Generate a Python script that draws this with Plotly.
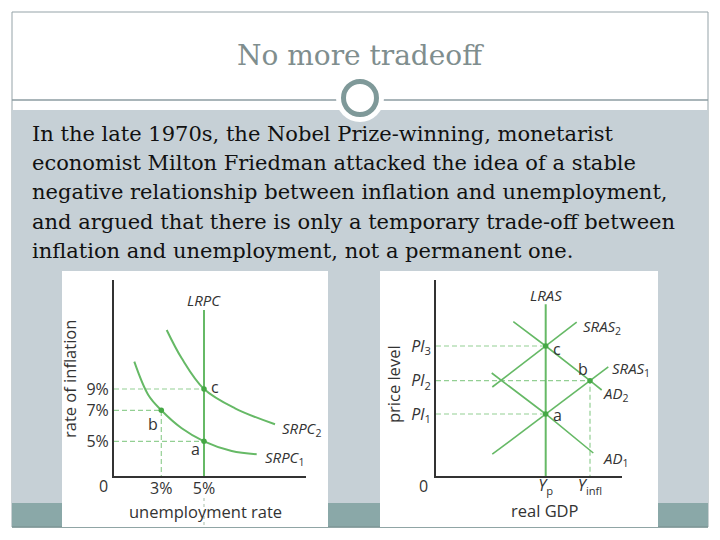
import plotly.graph_objects as go

W, H = 720, 540

# ---------------- data ----------------
title_text = "No more tradeoff"
body_lines = [
    "In the late 1970s, the Nobel Prize-winning, monetarist",
    "economist Milton Friedman attacked the idea of a stable",
    "negative relationship between inflation and unemployment,",
    "and argued that there is only a temporary trade-off between",
    "inflation and unemployment, not a permanent one.",
]

# Left chart (Phillips curves), schematic units
left_xrange = [0, 19.17]
left_yrange = [0, 19.6]
left_xtick_vals = [4.73, 9.0]
left_xtick_text = ["3%", "5%"]
left_ytick_vals = [3.47, 6.57, 8.7]
left_ytick_text = ["5%", "7%", "9%"]
lrpc_x = 9.0
lrpc_top = 16.6
srpc1_x = [2.03, 3.43, 4.73, 6.77, 9.0, 11.77, 14.27]
srpc1_y = [11.43, 8.1, 6.57, 4.77, 3.47, 2.5, 2.17]
srpc2_x = [5.27, 6.77, 9.0, 12.1, 16.1]
srpc2_y = [14.6, 11.77, 8.7, 6.77, 5.17]
left_pts_x = [9.0, 4.73, 9.0]      # a, b, c
left_pts_y = [3.47, 6.57, 8.7]

# Right chart (AD/AS), schematic units
right_xrange = [0, 18.57]
right_yrange = [0, 19.6]
right_xtick_vals = [10.97, 15.4]
right_xtick_text = ["<i>Y</i><sub>p</sub>", "<i>Y</i><sub>infl</sub>"]
right_ytick_vals = [6.2, 9.53, 13.0]
right_ytick_text = ["<i>Pl</i><sub>1</sub>", "<i>Pl</i><sub>2</sub>", "<i>Pl</i><sub>3</sub>"]
lras_x = 10.97
lras_top = 17.17
sras1_x = [5.63, 17.23]
sras1_y = [2.18, 10.91]
sras2_x = [5.63, 14.07]
sras2_y = [8.9, 15.38]
ad1_x = [5.57, 10.97, 15.73]
ad1_y = [10.3, 6.2, 2.3]
ad2_x = [7.73, 10.97, 15.4, 16.57]
ad2_y = [15.43, 13.0, 9.53, 8.6]
right_pts_x = [10.97, 15.4, 10.97]   # a, b, c
right_pts_y = [6.2, 9.53, 13.0]

# ---------------- styles ----------------
GREEN = "#66b966"
DGREEN = "#45a845"
DASH_GREEN = "#93cf93"
AXIS = "#333333"
TXT = "#333333"
SANS = "Open Sans"
FS = 16
SERIF = "DejaVu Serif"

def px(x):
    return x / W

def py(y):
    return 1 - y / H

fig = go.Figure()

def line(x, y, xa, ya, color=GREEN, width=2, dash=None, shape="linear"):
    fig.add_trace(go.Scatter(
        x=x, y=y, xaxis=xa, yaxis=ya, mode="lines",
        line=dict(color=color, width=width, dash=dash, shape=shape, smoothing=1.0),
        hoverinfo="skip", showlegend=False, cliponaxis=False))

DASH = "5px,3px"

# ----- left chart -----
xl, yl = "x", "y"
line([0, lrpc_x], [left_pts_y[2]] * 2, xl, yl, DASH_GREEN, 1.2, DASH)
line([0, left_pts_x[1], left_pts_x[1]], [left_pts_y[1], left_pts_y[1], 0], xl, yl, DASH_GREEN, 1.2, DASH)
line([0, lrpc_x], [left_pts_y[0]] * 2, xl, yl, DASH_GREEN, 1.2, DASH)
line([lrpc_x, lrpc_x], [0, lrpc_top], xl, yl)
line(srpc1_x, srpc1_y, xl, yl, shape="spline")
line(srpc2_x, srpc2_y, xl, yl, shape="spline")
fig.add_trace(go.Scatter(x=left_pts_x, y=left_pts_y, xaxis=xl, yaxis=yl, mode="markers",
                         marker=dict(color=DGREEN, size=5.5), hoverinfo="skip",
                         showlegend=False, cliponaxis=False))

# ----- right chart -----
xr, yr = "x2", "y2"
line([0, right_pts_x[2]], [right_pts_y[2]] * 2, xr, yr, DASH_GREEN, 1.2, DASH)
line([0, right_pts_x[1], right_pts_x[1]], [right_pts_y[1], right_pts_y[1], 0], xr, yr, DASH_GREEN, 1.2, DASH)
line([0, right_pts_x[0]], [right_pts_y[0]] * 2, xr, yr, DASH_GREEN, 1.2, DASH)
line([lras_x, lras_x], [0, lras_top], xr, yr)
line(sras1_x, sras1_y, xr, yr, width=1.6)
line(sras2_x, sras2_y, xr, yr, width=1.6)
line(ad1_x, ad1_y, xr, yr, width=1.6)
line(ad2_x, ad2_y, xr, yr, width=1.6)
fig.add_trace(go.Scatter(x=right_pts_x, y=right_pts_y, xaxis=xr, yaxis=yr, mode="markers",
                         marker=dict(color=DGREEN, size=5.5), hoverinfo="skip",
                         showlegend=False, cliponaxis=False))

# ---------------- background shapes ----------------
shapes = [
    dict(type="rect", xref="paper", yref="paper", x0=px(12), x1=px(708), y0=py(527), y1=py(12),
         line=dict(color="#95a3a8", width=1), fillcolor="white", layer="below"),
    dict(type="rect", xref="paper", yref="paper", x0=px(12), x1=px(708), y0=py(527), y1=py(110),
         line=dict(width=0), fillcolor="#c6d0d6", layer="below"),
    dict(type="rect", xref="paper", yref="paper", x0=px(12), x1=px(708), y0=py(527), y1=py(503),
         line=dict(width=0), fillcolor="#8aa8a8", layer="below"),
    dict(type="line", xref="paper", yref="paper", x0=px(12), x1=px(708), y0=py(100), y1=py(100),
         line=dict(color="#8d9ca2", width=1.3), layer="below"),
    dict(type="line", xref="paper", yref="paper", x0=px(12), x1=px(708), y0=py(527), y1=py(527),
         line=dict(color="#7d9696", width=1.5), layer="below"),
    dict(type="rect", xref="paper", yref="paper", x0=px(62), x1=px(328), y0=py(527), y1=py(271),
         line=dict(width=0), fillcolor="white", layer="below"),
    dict(type="rect", xref="paper", yref="paper", x0=px(380), x1=px(658), y0=py(527), y1=py(271),
         line=dict(width=0), fillcolor="white", layer="below"),
    dict(type="circle", xref="paper", yref="paper", x0=px(360 - 24), x1=px(360 + 24),
         y0=py(98 + 24), y1=py(98 - 24), line=dict(width=0), fillcolor="white", layer="below"),
    dict(type="circle", xref="paper", yref="paper", x0=px(360 - 16.5), x1=px(360 + 16.5),
         y0=py(98 + 16.5), y1=py(98 - 16.5), line=dict(color="#7f9999", width=5),
         fillcolor="white", layer="below"),
    # LRPC faint dashed continuation below axis
    dict(type="line", xref="x", yref="paper", x0=lrpc_x, x1=lrpc_x, y0=py(498), y1=py(527),
         line=dict(color="#a9bfa9", width=1, dash="3px,3px"), layer="below"),
]

# ---------------- annotations ----------------
ann = []
ann.append(dict(text=title_text, xref="paper", yref="paper", x=px(360), y=py(55),
                xanchor="center", yanchor="middle", showarrow=False,
                font=dict(family=SERIF, size=28, color="#7f8e8e")))
for i, t in enumerate(body_lines):
    ann.append(dict(text=t, xref="paper", yref="paper", x=px(30), y=py(134 + i * 29.2),
                    xanchor="left", yanchor="middle", showarrow=False,
                    font=dict(family=SERIF, size=21, color="#111111")))

def a(text, x, y, xref, yref, xanchor="center", size=FS, angle=0):
    ann.append(dict(text=text, x=x, y=y, xref=xref, yref=yref, xanchor=xanchor,
                    yanchor="middle", showarrow=False, textangle=angle,
                    font=dict(family=SANS, size=size, color=TXT)))

# left chart labels
a("<i>LRPC</i>", lrpc_x, 17.6, "x", "y", size=15)
a("c", 9.45, 8.95, "x", "y", "left")
a("b", 3.87, 5.2, "x", "y")
a("a", 8.1, 2.67, "x", "y")
a("<i>SRPC</i><sub>2</sub>", 16.6, 4.7, "x", "y", "left", size=15)
a("<i>SRPC</i><sub>1</sub>", 14.9, 1.8, "x", "y", "left", size=15)
a("0", px(103), py(486), "paper", "paper")
a("unemployment rate", px(205), py(511), "paper", "paper", size=16.5)
a("rate of inflation", px(69), py(379), "paper", "paper", size=16.5, angle=-90)

# right chart labels
a("<i>LRAS</i>", lras_x, 18.1, "x2", "y2", size=15)
a("<i>SRAS</i><sub>2</sub>", 14.5, 14.9, "x2", "y2", "left", size=15)
a("c", 11.45, 12.75, "x2", "y2", "left")
a("b", 14.67, 10.75, "x2", "y2")
a("<i>SRAS</i><sub>1</sub>", 17.4, 10.7, "x2", "y2", "left", size=15)
a("<i>AD</i><sub>2</sub>", 16.5, 8.2, "x2", "y2", "left", size=15)
a("a", 11.5, 6.1, "x2", "y2", "left")
a("<i>AD</i><sub>1</sub>", 16.5, 1.7, "x2", "y2", "left", size=15)
a("0", px(423), py(486), "paper", "paper")
a("real GDP", px(545), py(510), "paper", "paper", size=16.5)
a("price level", px(393), py(384), "paper", "paper", size=16.5, angle=-90)

axis_common = dict(showgrid=False, zeroline=False, showline=True, linecolor=AXIS,
                   linewidth=2, ticks="", tickfont=dict(family=SANS, size=FS, color=TXT),
                   fixedrange=True)

fig.update_layout(
    width=W, height=H,
    margin=dict(l=0, r=0, t=0, b=0),
    paper_bgcolor="white",
    plot_bgcolor="rgba(0,0,0,0)",
    showlegend=False,
    shapes=shapes,
    annotations=ann,
    xaxis=dict(domain=[px(114), px(305.7)], range=left_xrange, anchor="y",
               tickvals=left_xtick_vals, ticktext=left_xtick_text,
               ticklabelstandoff=-3, **axis_common),
    yaxis=dict(domain=[py(476), py(280)], range=left_yrange, anchor="x",
               tickvals=left_ytick_vals, ticktext=left_ytick_text, **axis_common),
    xaxis2=dict(domain=[px(436), px(621.7)], range=right_xrange, anchor="y2",
                tickvals=right_xtick_vals, ticktext=right_xtick_text,
                ticklabelstandoff=-6, **axis_common),
    yaxis2=dict(domain=[py(476), py(280)], range=right_yrange, anchor="x2",
                tickvals=right_ytick_vals, ticktext=right_ytick_text, **axis_common),
)

fig.write_html("out.html", config={"displayModeBar": False},
               post_script="document.body.style.margin='0';document.body.style.overflow='hidden';")
